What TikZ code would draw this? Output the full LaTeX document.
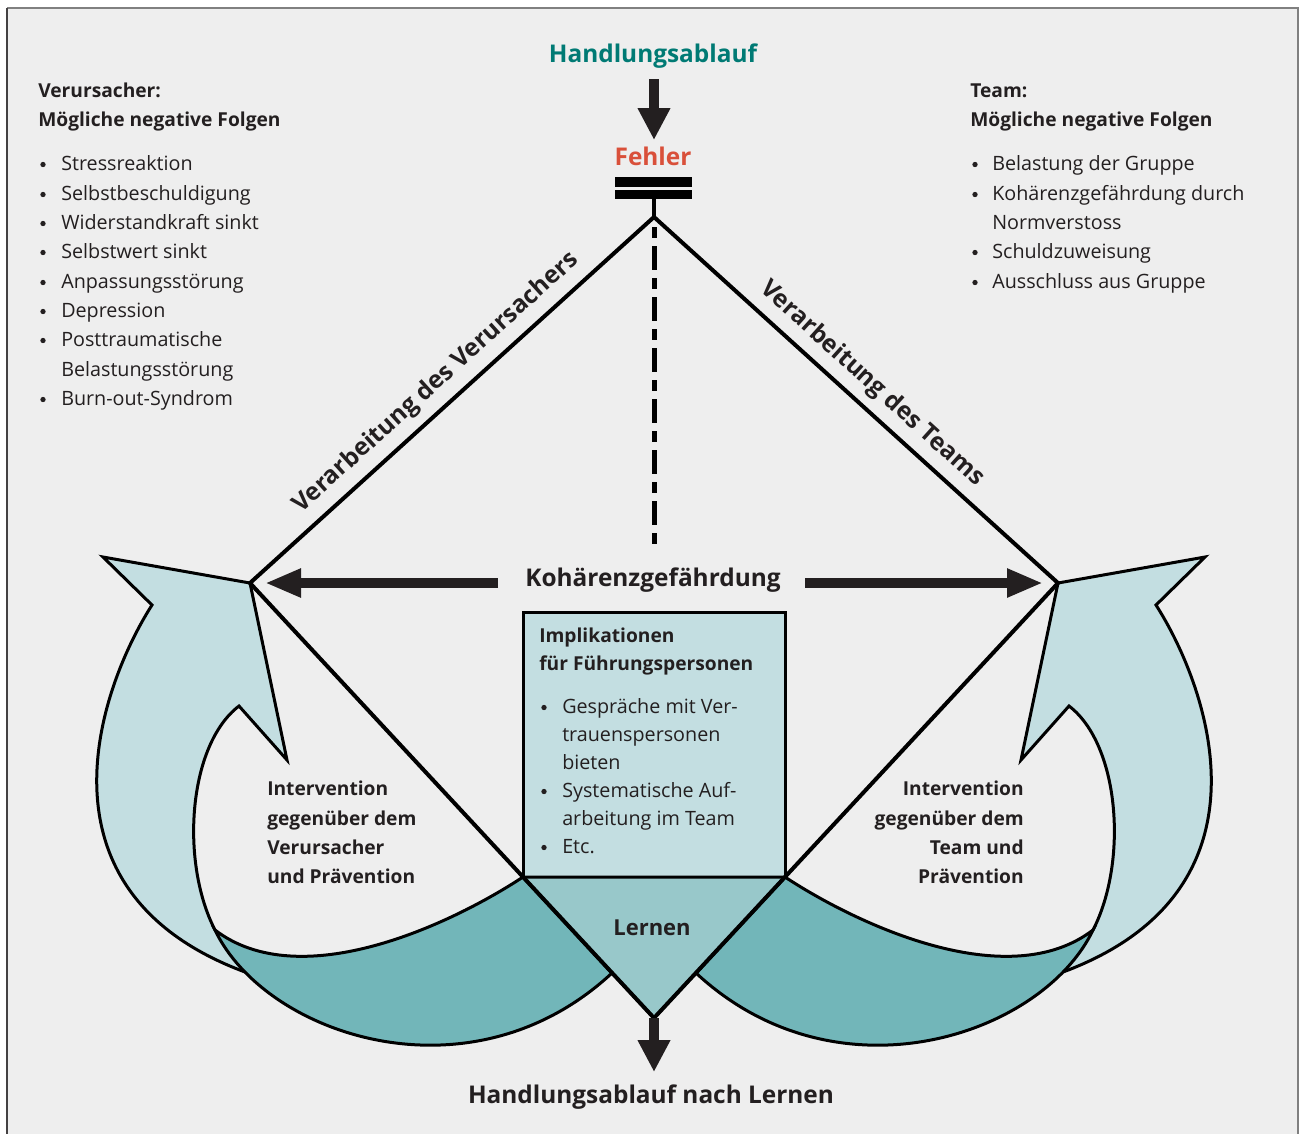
\documentclass[tikz,border=0pt]{standalone}
\usepackage{fontspec}
\setmainfont{Open Sans}
\usetikzlibrary{arrows.meta}
\definecolor{ink}{HTML}{231F20}
\definecolor{paper}{HTML}{EEEEEE}
\definecolor{titleteal}{HTML}{007A74}
\definecolor{fehlerred}{HTML}{D9503A}
\definecolor{boxblue}{HTML}{C3DEE1}
\definecolor{learnblue}{HTML}{98C8CA}
\definecolor{bandteal}{HTML}{72B6B9}
\begin{document}
\begin{tikzpicture}[x=0.75pt,y=-0.75pt,
  txt/.style={text=ink, inner sep=0pt},
  body/.style={txt, font=\fontsize{14.8}{18}\selectfont},
  head/.style={txt, font=\fontsize{14.4}{18}\selectfont\bfseries},
  big/.style={txt, font=\fontsize{18.3}{22}\selectfont\bfseries},
  dot/.style={circle, fill=ink, inner sep=0pt, minimum size=4pt},
  outline/.style={draw=black, line width=2.25pt, line join=miter},
  edge/.style={draw=black, line width=3pt, line join=miter},
  fatarrow/.style={draw=ink, line width=7.5pt, -{Triangle[length=24pt,width=23pt]}}]
\useasboundingbox (0,0) rectangle (1301,1133);
% page and frame
\fill[white] (0,0) rectangle (1301,1133);
\fill[paper] (7,8) rectangle (1298,1140);
\draw[gray, line width=1.5pt] (7,8) -- (1298,8) -- (1298,1140);
\draw[ink!85, line width=1.5pt] (7,8) -- (7,1140);

% diamond corners
\coordinate (tv) at (654,217);
\coordinate (lv) at (250,583);
\coordinate (rv) at (1058,583);
\coordinate (bv) at (654,1018);

% curved intervention arrows (left one, then its mirror image)
\foreach \mir in {1,-1}{
  \begin{scope}[shift={({654*(1-\mir)},0)}, xscale=\mir]
    \path[fill=boxblue, outline] (250,583) -- (287,760) -- (239,706)
      .. controls (188,745) and (180,862) .. (215,930) -- (245,972)
      .. controls (27,891) and (99,688) .. (152,605) -- (103,557) -- cycle;
    \path[fill=bandteal, outline] (215,930)
      .. controls (265,1035) and (470,1105) .. (612,973) -- (523,877)
      .. controls (450,925) and (300,995) .. (215,930) -- cycle;
  \end{scope}
}

% implications box and learning triangle
\path[fill=boxblue, draw=black, line width=2.25pt] (523,612) rectangle (785,877);
\path[fill=learnblue, draw=black, line width=2.25pt] (523,877) -- (785,877) -- (bv) -- cycle;

% diamond
\path[edge] (tv) -- (lv) -- (bv) -- (rv) -- cycle;

% dash-dot axis below the error
\draw[black, line width=3.75pt, dash pattern=on 8.25pt off 6pt on 18pt off 6pt] (654,227) -- (654,548);

% error symbol
\fill[black] (615,177) rectangle (692,187);
\fill[black] (615,190) rectangle (692,199);
\draw[black, line width=3pt] (654,199) -- (tv);

% labels
\node[big, text=titleteal, anchor=base] (hab) at (653,62) {Handlungsablauf};
\node[big, text=fehlerred, anchor=base] (fehler) at (653,165) {Fehler};
\node[big, anchor=base] (koh) at (653,586) {Kohärenzgefährdung};
\node[big, font=\fontsize{16.5}{20}\selectfont\bfseries, anchor=base] (lern) at (652,935) {Lernen};
\node[big, anchor=base] (habn) at (651,1103) {Handlungsablauf nach Lernen};
\node[big, rotate=42.17] (vv) at (436,383) {Verarbeitung des Verursachers};
\node[big, rotate=-42.17] (vt) at (872,384) {Verarbeitung des Teams};

% arrows
\coordinate (hs) at (654,79);
\coordinate (he) at (654,140);
\draw[fatarrow] (hs) -- (he);
\coordinate (ls) at (498,583);
\coordinate (lt) at (265,583);
\coordinate (rs) at (805,583);
\coordinate (rt) at (1043,583);
\draw[draw=ink, line width=7pt, -{Triangle[length=27pt,width=20pt]}] (ls) -- (lt);
\draw[draw=ink, line width=7pt, -{Triangle[length=27pt,width=20pt]}] (rs) -- (rt);
\coordinate (be) at (654,1072);
\draw[fatarrow] (bv) -- (be);

% consequences for the person who made the error
\node[head, anchor=base west] (vh1) at (38,97) {Verursacher:};
\node[head, anchor=base west] (vh2) at (38,126) {Mögliche negative Folgen};
\foreach \y/\t [count=\i] in {170/Stressreaktion,200/Selbstbeschuldigung,229/Widerstandkraft sinkt,258/Selbstwert sinkt,288/Anpassungsstörung,317/Depression,346/Posttraumatische,376/Belastungsstörung,405/Burn-out-Syndrom}
  \node[body, anchor=base west] (vl\i) at (61,\y) {\t};
\foreach \y [count=\i] in {170,200,229,258,288,317,346,405}
  \node[dot] (vb\i) at (43,\y-5.5) {};

% consequences for the team
\node[head, anchor=base west] (th1) at (970,97) {Team:};
\node[head, anchor=base west] (th2) at (970,126) {Mögliche negative Folgen};
\foreach \y/\t [count=\i] in {170/Belastung der Gruppe,200/Kohärenzgefährdung durch,229/Normverstoss,258/Schuldzuweisung,288/Ausschluss aus Gruppe}
  \node[body, anchor=base west] (tl\i) at (992,\y) {\t};
\foreach \y [count=\i] in {170,200,258,288}
  \node[dot] (tb\i) at (975,\y-5.5) {};

% implications for leaders
\node[head, anchor=base west] (ih1) at (539,642) {Implikationen};
\node[head, anchor=base west] (ih2) at (539,670) {für Führungspersonen};
\foreach \y/\t [count=\i] in {713/Gespräche mit Ver-,741/trauenspersonen,769/bieten,797/Systematische Auf-,825/arbeitung im Team,853/Etc.}
  \node[body, anchor=base west] (il\i) at (562,\y) {\t};
\foreach \y [count=\i] in {713,797,853}
  \node[dot] (ib\i) at (544,\y-5.5) {};

% interventions
\foreach \y/\t [count=\i] in {795/Intervention,825/gegenüber dem,854/Verursacher,883/und Prävention}
  \node[head, anchor=base west] (iv\i) at (267,\y) {\t};
\foreach \y/\t [count=\i] in {795/Intervention,825/gegenüber dem,854/Team und,883/Prävention}
  \node[head, anchor=base east] (it\i) at (1024,\y) {\t};
\end{tikzpicture}
\end{document}
